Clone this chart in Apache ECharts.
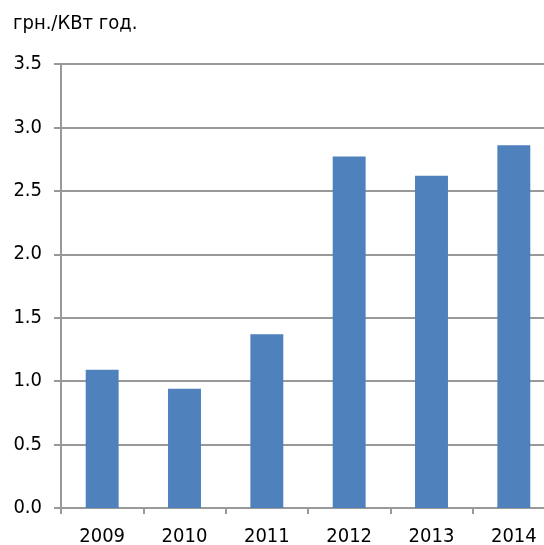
<!DOCTYPE html>
<html><head><meta charset="utf-8">
<script src="https://cdn.jsdelivr.net/npm/echarts@6/dist/echarts.min.js"></script>
<style>html,body{margin:0;padding:0;background:#fff}#c{width:544px;height:545px}</style>
</head><body><div id="c"></div>
<script>
const years = ['2009','2010','2011','2012','2013','2014'];
const values = [1.09, 0.94, 1.37, 2.77, 2.62, 2.86];
const unitLabel = 'грн./КВт год.';
const yTicks = {min: 0, max: 3.5, interval: 0.5};

const chart = echarts.init(document.getElementById('c'), null, {renderer: 'canvas'});
const font = 'DejaVu Sans Condensed';
chart.setOption({
  animation: false,
  backgroundColor: '#fff',
  title: {text: unitLabel, left: 8, top: 9, textStyle: {fontFamily: font, fontSize: 20, fontWeight: 'normal', color: '#000'}},
  grid: {left: 61, top: 64, width: 494, height: 444, containLabel: false, outerBoundsMode: 'none'},
  xAxis: {
    type: 'category', data: years,
    axisLine: {lineStyle: {color: '#999', width: 2}},
    axisTick: {show: true, length: 6, alignWithLabel: false, lineStyle: {color: '#999', width: 2}},
    axisLabel: {fontFamily: font, fontSize: 20, color: '#000', margin: 19}
  },
  yAxis: {
    type: 'value', min: yTicks.min, max: yTicks.max, interval: yTicks.interval,
    axisLine: {show: true, lineStyle: {color: '#999', width: 2}},
    axisTick: {show: true, length: 7, lineStyle: {color: '#999', width: 2}},
    splitLine: {lineStyle: {color: '#999', width: 2}},
    axisLabel: {fontFamily: font, fontSize: 20, color: '#000', margin: 19, formatter: v => v.toFixed(1)}
  },
  series: [{type: 'bar', data: values, barWidth: '40%', itemStyle: {color: '#4F81BD'}}]
});
</script></body></html>
